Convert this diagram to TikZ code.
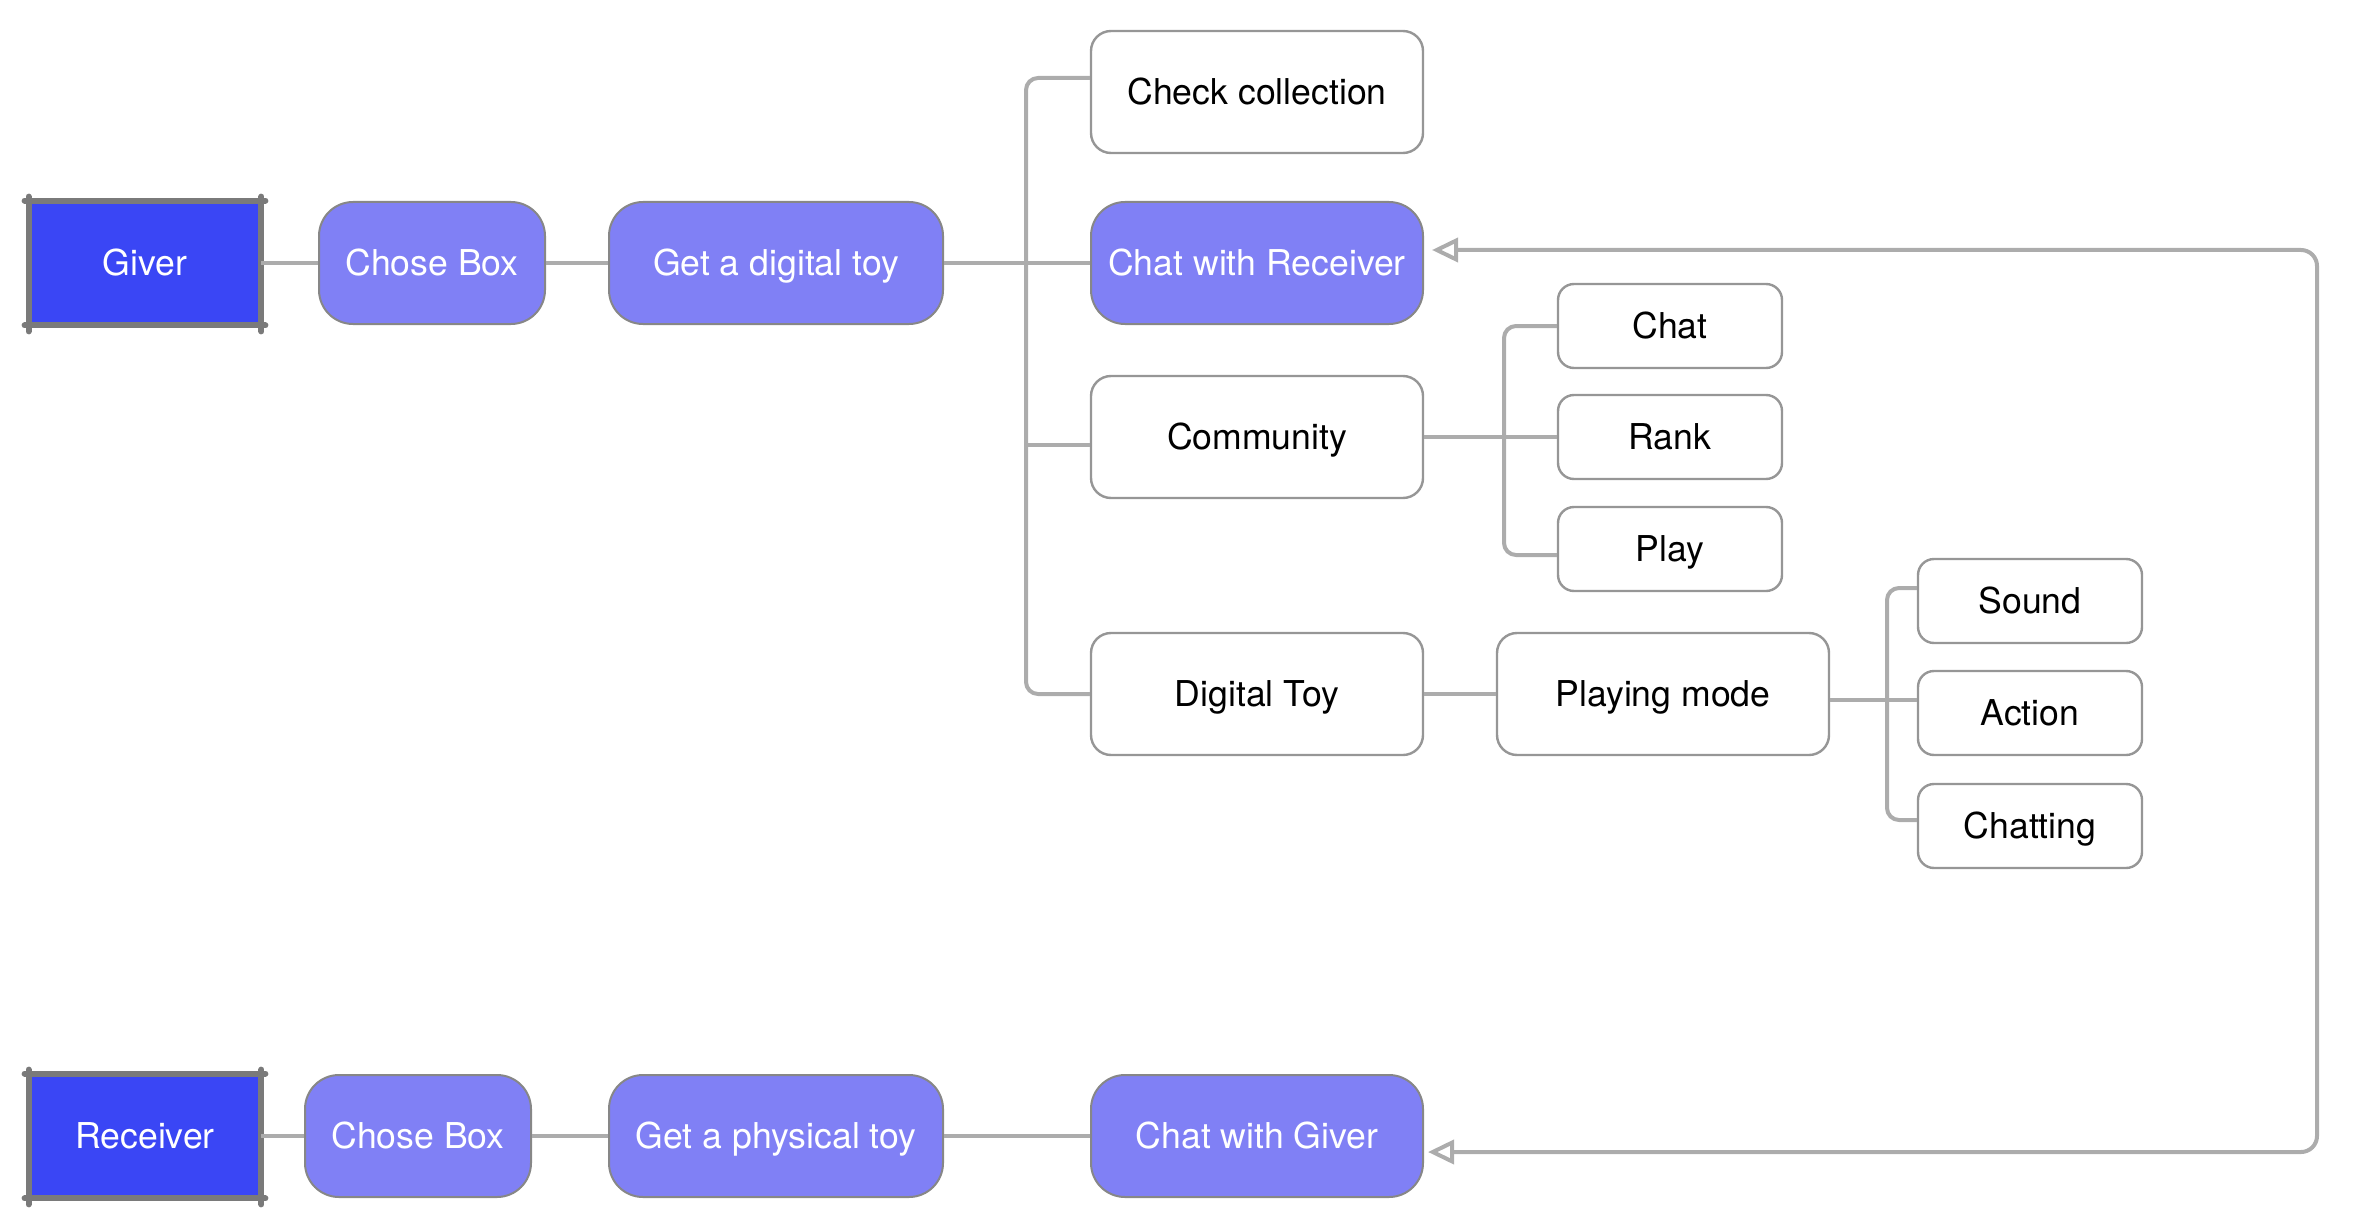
\documentclass[tikz,border=0pt]{standalone}
\usepackage{fontspec}
\setmainfont{TeX Gyre Heros}
\usetikzlibrary{arrows.meta}
\definecolor{actorblue}{RGB}{58,70,245}
\definecolor{flowblue}{RGB}{128,128,245}
\definecolor{actoredge}{RGB}{122,122,122}
\definecolor{flowedge}{RGB}{135,135,135}
\definecolor{leafedge}{RGB}{150,150,150}
\definecolor{linkgray}{RGB}{172,172,172}

\begin{document}
\begin{tikzpicture}[x=0.5pt, y=-0.5pt,
    font=\fontsize{17.8}{21}\selectfont,
    every node/.style={text height=12.8pt, text depth=0pt},
    actor/.style={fill=actorblue, text=white, minimum width=116pt, minimum height=62pt, inner sep=0pt},
    actorline/.style={draw=actoredge, line width=3pt, line cap=round},
    flowbox/.style={draw=flowedge, line width=1pt, fill=flowblue, text=white, rounded corners=17pt, minimum height=61pt, inner sep=0pt},
    leafbox/.style={draw=leafedge, line width=1.2pt, fill=white, rounded corners=10pt, minimum width=166pt, minimum height=61pt, inner sep=0pt},
    tagbox/.style={draw=leafedge, line width=1.2pt, fill=white, rounded corners=8pt, minimum width=112pt, minimum height=42pt, inner sep=0pt},
    link/.style={draw=linkgray, line width=2pt},
    tips/.style={{Triangle[open, length=13pt, width=12pt, fill=white]}-{Triangle[open, length=13pt, width=12pt, fill=white]}}]

    \useasboundingbox (0,0) rectangle (2354,1230);

    \node[actor] (giver) at (145,263) {Giver};
    \node[flowbox, minimum width=113pt] (chose) at (432,263) {Chose Box};
    \node[flowbox, minimum width=167pt] (dtoy) at (776,263) {Get a digital toy};

    \node[leafbox] (check) at (1257,92) {Check collection};
    \node[flowbox, minimum width=166pt] (chatr) at (1257,263) {Chat with Receiver};
    \node[leafbox] (comm) at (1257,437) {Community};
    \node[leafbox] (dig) at (1257,694) {Digital Toy};

    \node[tagbox] (chat) at (1670,326) {Chat};
    \node[tagbox] (rank) at (1670,437) {Rank};
    \node[tagbox] (play) at (1670,549) {Play};

    \node[leafbox] (pmode) at (1663,694) {Playing mode};
    \node[tagbox] (sound) at (2030,601) {Sound};
    \node[tagbox] (action) at (2030,713) {Action};
    \node[tagbox] (chatting) at (2030,826) {Chatting};

    \node[actor] (recv) at (145,1136) {Receiver};
    \node[flowbox, minimum width=113pt] (chose2) at (418,1136) {Chose Box};
    \node[flowbox, minimum width=167pt] (ptoy) at (776,1136) {Get a physical toy};
    \node[flowbox, minimum width=166pt] (chatg) at (1257,1136) {Chat with Giver};

    \foreach \n in {giver,recv} {
        \draw[actorline] ([xshift=-2pt]\n.north west) -- ([xshift=2pt]\n.north east);
        \draw[actorline] ([yshift=2pt]\n.north east) -- ([yshift=-3pt]\n.south east);
        \draw[actorline] ([xshift=2pt]\n.south east) -- ([xshift=-2pt]\n.south west);
        \draw[actorline] ([yshift=-3pt]\n.south west) -- ([yshift=2pt]\n.north west);
    }

    \coordinate (trunk) at (1026,0);
    \coordinate (ctrunk) at (1504,0);
    \coordinate (ptrunk) at (1887,0);
    \coordinate (ret) at (2317,0);
    \coordinate (checkin) at ([yshift=7pt]check.west);
    \coordinate (commin) at ([yshift=-4pt]comm.west);
    \coordinate (playin) at ([yshift=-3pt]play.west);
    \coordinate (soundin) at ([yshift=6.5pt]sound.west);
    \coordinate (actionin) at ([yshift=6.5pt]action.west);
    \coordinate (chattingin) at ([yshift=3pt]chatting.west);
    \coordinate (pmodeout) at ([yshift=-3pt]pmode.east);
    \coordinate (topin) at ([xshift=4pt, yshift=6.5pt]chatr.east);
    \coordinate (botin) at ([xshift=2pt, yshift=-8pt]chatg.east);

    \draw[link] (giver.east) -- (chose.west);
    \draw[link] (chose.east) -- (dtoy.west);
    \draw[link] (dtoy.east) -- (chatr.west);
    \draw[link, rounded corners=6pt] (checkin) -| (trunk |- dig.west) -- (dig.west);
    \draw[link] (trunk |- commin) -- (commin);

    \draw[link] (comm.east) -- (rank.west);
    \draw[link, rounded corners=6pt] (chat.west) -| (ctrunk |- playin) -- (playin);

    \draw[link] (dig.east) -- (pmode.west);
    \draw[link] (pmodeout) -- (actionin);
    \draw[link, rounded corners=6pt] (soundin) -| (ptrunk |- chattingin) -- (chattingin);

    \draw[link] (recv.east) -- (chose2.west);
    \draw[link] (chose2.east) -- (ptoy.west);
    \draw[link] (ptoy.east) -- (chatg.west);

    \draw[link, tips, rounded corners=8pt] (botin) -| (ret |- topin) -- (topin);

\end{tikzpicture}
\end{document}
